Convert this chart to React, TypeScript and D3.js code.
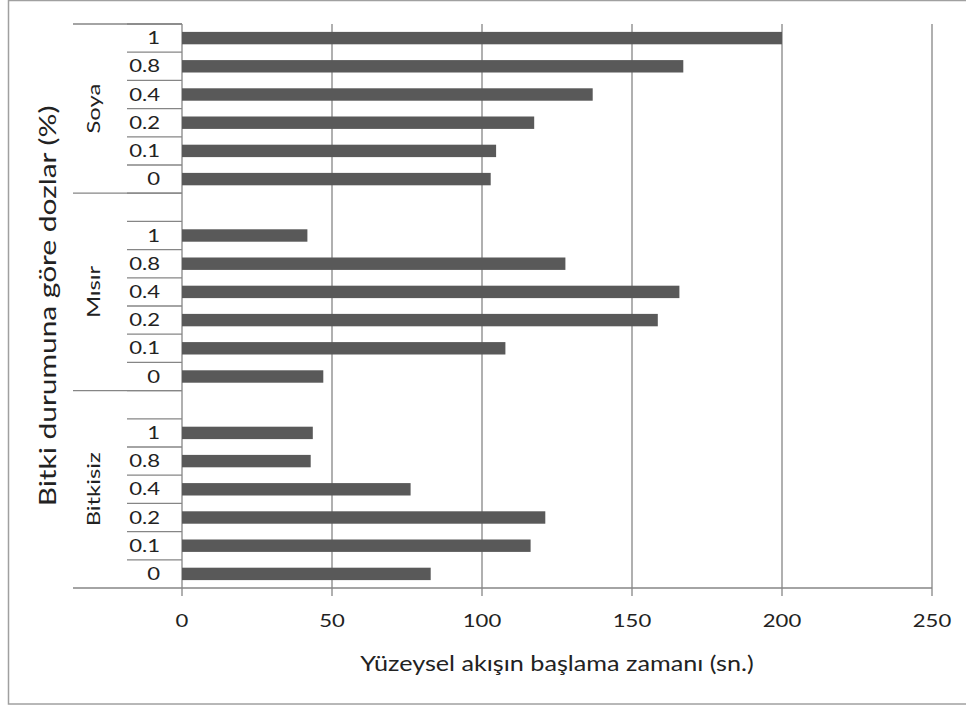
import React from "react";
import * as d3 from "d3";

const groups = ["Soya", "Mısır", "Bitkisiz"];
const doses = ["1", "0.8", "0.4", "0.2", "0.1", "0"];
const soyaValues = [200, 167.1, 136.9, 117.4, 104.7, 102.9];
const misirValues = [41.8, 127.8, 165.8, 158.6, 107.8, 47.1];
const bitkisizValues = [43.6, 42.9, 76.2, 121.1, 116.2, 82.9];
const groupValues = [soyaValues, misirValues, bitkisizValues];
// Mısır and Bitkisiz groups start with one blank category row (as in source)
const groupHasBlank = [false, true, true];
const xTicks = [0, 50, 100, 150, 200, 250];
const xTitle = "Yüzeysel akışın başlama zamanı (sn.)";
const yTitle = "Bitki durumuna göre dozlar (%)";

type Slot = { id: string; group: number; dose: string; value: number | null };

const slots: Slot[] = [];
groups.forEach((g, gi) => {
  if (groupHasBlank[gi]) slots.push({ id: `${gi}-blank`, group: gi, dose: "", value: null });
  doses.forEach((d, di) => {
    slots.push({ id: `${gi}-${d}`, group: gi, dose: d, value: groupValues[gi][di] });
  });
});

const W = 966;
const H = 707;
const plotLeft = 182;
const plotRight = 932;
const plotTop = 24;
const plotBottom = 588;
const FONT = "Lato, 'Open Sans', sans-serif";
const GRID = "#868686";
const BAR = "#595959";

export default function App() {
  const x = d3.scaleLinear().domain([0, 250]).range([plotLeft, plotRight]);
  const y = d3
    .scaleBand<string>()
    .domain(slots.map((s) => s.id))
    .range([plotTop, plotBottom])
    .paddingInner(0.56)
    .paddingOuter(0.28);
  const slotH = (plotBottom - plotTop) / slots.length;
  const sTop = (i: number) => plotTop + i * slotH;

  const groupRanges = groups.map((_, gi) => {
    const idx = slots.map((s, i) => (s.group === gi ? i : -1)).filter((i) => i >= 0);
    return { start: sTop(idx[0]), end: sTop(idx[idx.length - 1] + 1) };
  });

  const sx = 1.3;

  return (
    <div style={{ position: "absolute", left: 0, top: 0 }}>
      <svg width={W} height={H} style={{ display: "block", background: "#fff" }}>
        <rect x={8.5} y={0.5} width={W + 10} height={703.5} fill="#fff" stroke="#a0a0a0" strokeWidth={1.5} />
        {/* gridlines + tick marks */}
        {xTicks.map((t) => (
          <line key={`g${t}`} x1={x(t)} x2={x(t)} y1={plotTop} y2={plotBottom + 8} stroke={GRID} strokeWidth={1.3} />
        ))}
        {/* bars */}
        {slots
          .filter((s) => s.value !== null)
          .map((s) => (
            <rect
              key={s.id}
              x={x(0)}
              y={y(s.id)}
              width={x(s.value as number) - x(0)}
              height={y.bandwidth()}
              fill={BAR}
            />
          ))}
        {/* category boundary ticks */}
        {slots.map((s, i) => (
          <line key={`t${i}`} x1={127} x2={plotLeft} y1={sTop(i)} y2={sTop(i)} stroke={GRID} strokeWidth={1.3} />
        ))}
        {groupRanges.map((r, gi) => (
          <line key={`gb${gi}`} x1={73} x2={plotLeft} y1={r.start} y2={r.start} stroke={GRID} strokeWidth={1.3} />
        ))}
        {/* x axis line */}
        <line x1={73} x2={plotRight} y1={plotBottom} y2={plotBottom} stroke={GRID} strokeWidth={1.3} />
        {/* category labels */}
        {slots
          .filter((s) => s.dose !== "")
          .map((s) => {
            const cy = (y(s.id) as number) + y.bandwidth() / 2;
            return (
              <text
                key={`l${s.id}`}
                transform={`translate(160,${cy + 6}) scale(${sx},1)`}
                textAnchor="end"
                fontFamily={FONT}
                fontSize={17}
                fill="#222"
              >
                {s.dose}
              </text>
            );
          })}
        {/* group labels */}
        {groups.map((g, gi) => {
          const r = groupRanges[gi];
          const cy = (r.start + r.end) / 2;
          return (
            <text
              key={`gl${g}`}
              transform={`translate(100,${cy}) rotate(-90) scale(1.4,1)`}
              textAnchor="middle"
              fontFamily={FONT}
              fontSize={17}
              fill="#222"
            >
              {g}
            </text>
          );
        })}
        {/* x tick labels */}
        {xTicks.map((t) => (
          <text
            key={`xl${t}`}
            transform={`translate(${x(t)},627) scale(${sx},1)`}
            textAnchor="middle"
            fontFamily={FONT}
            fontSize={17}
            fill="#222"
          >
            {t}
          </text>
        ))}
        {/* axis titles */}
        <text
          transform={`translate(557,671) scale(1.2,1)`}
          textAnchor="middle"
          fontFamily={FONT}
          fontSize={21}
          fill="#222"
        >
          {xTitle}
        </text>
        <text
          transform={`translate(56,${(plotTop + plotBottom) / 2}) rotate(-90) scale(1.3,1)`}
          textAnchor="middle"
          fontFamily={FONT}
          fontSize={23}
          fill="#222"
        >
          {yTitle}
        </text>
      </svg>
    </div>
  );
}
